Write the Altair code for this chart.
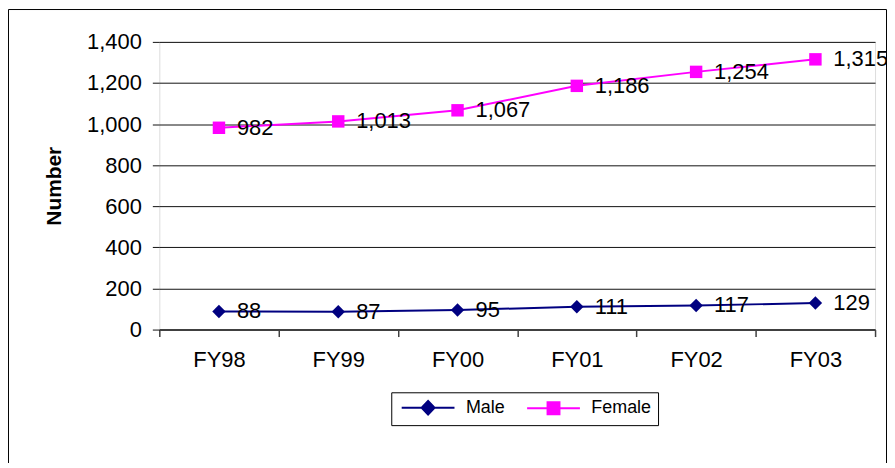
import altair as alt
import pandas as pd

years = ["FY98", "FY99", "FY00", "FY01", "FY02", "FY03"]
male = [88, 87, 95, 111, 117, 129]
female = [982, 1013, 1067, 1186, 1254, 1315]
series_names = ["Male", "Female"]
series_colors = ["#000080", "#FF00FF"]
y_ticks = [0, 200, 400, 600, 800, 1000, 1200, 1400]

rows = []
for y, v in zip(years, male):
    rows.append({"year": y, "series": "Male", "value": v})
for y, v in zip(years, female):
    rows.append({"year": y, "series": "Female", "value": v})
df = pd.DataFrame(rows)

FONT = "Liberation Sans"

x_enc = alt.X("year:N", sort=years,
              scale=alt.Scale(type="band", paddingInner=0, paddingOuter=0),
              axis=alt.Axis(title=None, labelAngle=0, grid=False, tickBand="extent",
                            tickSize=7, tickColor="#404040", tickWidth=1.5,
                            domainColor="#404040", domainWidth=2,
                            labelFont=FONT, labelFontSize=22, labelColor="black",
                            labelPadding=13))
y_enc = alt.Y("value:Q",
              scale=alt.Scale(domain=[0, 1400], nice=False),
              axis=alt.Axis(title="Number", values=y_ticks, format=",.0f",
                            grid=True, gridColor="#111111", gridWidth=1,
                            domain=False, tickSize=7, tickColor="#111111",
                            labelFont=FONT, labelFontSize=22, labelColor="black",
                            labelPadding=11, titleFont=FONT, titleFontSize=21,
                            titleFontWeight="bold", titleColor="black",
                            titlePadding=22))
color_scale = alt.Scale(domain=series_names, range=series_colors)

leg = alt.Legend(title=None, orient="none", legendX=233, legendY=352,
                 direction="horizontal", padding=6.5, strokeColor="black",
                 fillColor="white", labelFont=FONT, labelFontSize=18,
                 labelColor="black", symbolSize=169, symbolOffset=21.5,
                 labelOffset=29, columnPadding=17, symbolStrokeWidth=2)

color_enc = alt.Color("series:N", scale=color_scale, legend=leg)

base = alt.Chart(df)

lines = base.mark_line(strokeWidth=2).encode(
    x=x_enc, y=y_enc, color=color_enc, detail="series:N",
)

male_pts = base.transform_filter(alt.datum.series == "Male").mark_point(
    shape="diamond", filled=True, size=182, opacity=1).encode(
    x=x_enc, y=y_enc, color=color_enc,
)
female_pts = base.transform_filter(alt.datum.series == "Female").mark_point(
    shape="square", filled=True, size=156, opacity=1).encode(
    x=x_enc, y=y_enc, color=color_enc,
)

labels = base.mark_text(align="left", baseline="middle", dx=18, dy=0,
                        font=FONT, fontSize=22, color="black").encode(
    x=x_enc, y=y_enc,
    text=alt.Text("value:Q", format=",.0f"),
)

shape_paths = [
    "M-4.08,0L4.08,0M0,-1.05L1,0L0,1.05L-1,0Z",
    "M-4.08,0L4.08,0M-0.92,-0.92L0.92,-0.92L0.92,0.92L-0.92,0.92Z",
]

legend_layer = base.transform_filter("false").mark_point(
    filled=True, strokeWidth=2, opacity=1).encode(
    color=color_enc,
    stroke=alt.Stroke("series:N", scale=color_scale, legend=leg),
    shape=alt.Shape("series:N",
                    scale=alt.Scale(domain=series_names, range=shape_paths),
                    legend=leg),
)

border = alt.Chart(alt.Data(values=[{"a": 1}])).mark_rect(
    fillOpacity=0, stroke="black", strokeWidth=1).encode(
    x=alt.value(-151.5), x2=alt.value(730.5),
    y=alt.value(-32.5), y2=alt.value(440),
)

chart = alt.layer(border, lines, male_pts, female_pts, labels, legend_layer).properties(
    width=719, height=289,
    autosize=alt.AutoSizeParams(type="none"),
    padding={"left": 152, "top": 33, "right": 12, "bottom": 133},
).configure_view(
    stroke="#808080", strokeWidth=2,
).configure(background="white")

chart.save("out.html", embed_options={"renderer": "svg", "actions": False})
